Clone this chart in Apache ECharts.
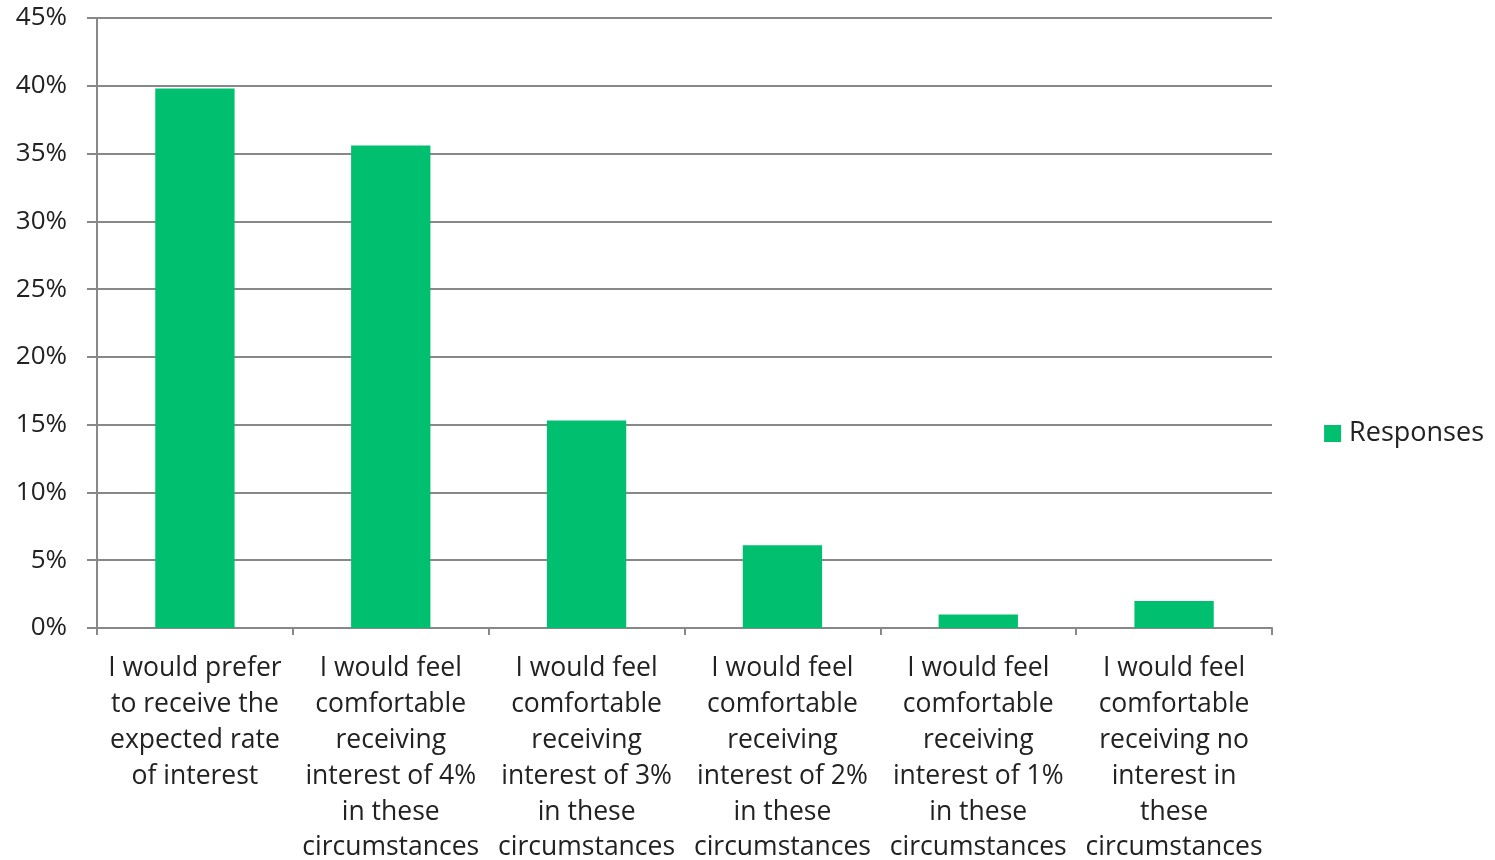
<!DOCTYPE html>
<html>
<head>
<meta charset="utf-8">
<script src="https://cdn.jsdelivr.net/npm/echarts@6/dist/echarts.min.js"></script>
<style>html,body{margin:0;padding:0;background:#fff;}#c{width:1495px;height:860px;}</style>
</head>
<body>
<div id="c"></div>
<script>
const categories = [
  "I would prefer\nto receive the\nexpected rate\nof interest",
  "I would feel\ncomfortable\nreceiving\ninterest of 4%\nin these\ncircumstances",
  "I would feel\ncomfortable\nreceiving\ninterest of 3%\nin these\ncircumstances",
  "I would feel\ncomfortable\nreceiving\ninterest of 2%\nin these\ncircumstances",
  "I would feel\ncomfortable\nreceiving\ninterest of 1%\nin these\ncircumstances",
  "I would feel\ncomfortable\nreceiving no\ninterest in\nthese\ncircumstances"
];
const responses = [39.8, 35.6, 15.3, 6.1, 1.0, 2.0];
const seriesName = "Responses";

const chart = echarts.init(document.getElementById('c'));
const font = "'Open Sans', sans-serif";
chart.setOption({
  animation: false,
  backgroundColor: '#ffffff',
  grid: { left: 97, right: 223, top: 18, bottom: 232, containLabel: false, outerBoundsMode: 'none' },
  legend: {
    data: [seriesName],
    right: 6,
    orient: 'vertical',
    icon: 'rect', itemWidth: 17, itemHeight: 17, itemGap: 8,
    textStyle: { fontFamily: font, fontSize: 27, color: '#222', padding: [0, 0, 0, 3] },
    top: 415
  },
  xAxis: {
    type: 'category',
    data: categories,
    axisLine: { lineStyle: { color: '#888', width: 2 } },
    axisTick: { show: true, length: 7, alignWithLabel: false, lineStyle: { color: '#888', width: 2 } },
    axisLabel: { interval: 0, fontFamily: font, fontSize: 26.5, color: '#222', lineHeight: 35.8, margin: 23, align: 'center' }
  },
  yAxis: {
    type: 'value',
    min: 0, max: 45, interval: 5,
    axisLine: { show: true, lineStyle: { color: '#888', width: 2 } },
    axisTick: { show: true, inside: false, length: 10, lineStyle: { color: '#888', width: 2 } },
    splitLine: { lineStyle: { color: '#888', width: 2 } },
    axisLabel: { formatter: '{value}%', fontFamily: font, fontSize: 26, color: '#222', margin: 30 }
  },
  series: [{
    name: seriesName,
    type: 'bar',
    data: responses,
    barWidth: '40.5%',
    itemStyle: { color: '#00BF6F' }
  }]
});
</script>
</body>
</html>
